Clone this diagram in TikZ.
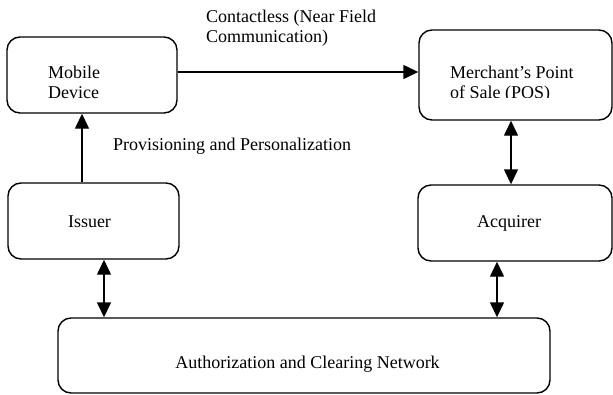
\documentclass[tikz,border=0pt]{standalone}
\usepackage{fontspec}
\setmainfont{Liberation Serif}
\usetikzlibrary{arrows.meta}
\begin{document}
\begin{tikzpicture}[x=1pt,y=-1pt,
  box/.style={draw, line width=1.4pt, rounded corners=13pt, inner sep=0pt},
  lbl/.style={font=\fontsize{18}{20}\selectfont, inner sep=0pt, anchor=base west},
  lblc/.style={font=\fontsize{18}{20}\selectfont, inner sep=0pt, anchor=base},
  con/.style={line width=1.4pt, -{Triangle[length=15pt,width=14pt]}},
  bicon/.style={line width=1.4pt, {Triangle[length=15pt,width=14pt]}-{Triangle[length=15pt,width=14pt]}}]
\useasboundingbox (0,0) rectangle (613,394);
% boxes
\node[box, minimum width=170pt, minimum height=76pt] (md) at (92,75) {};
\node[box, minimum width=193pt, minimum height=90pt] (pos) at (515.5,75) {};
\node[box, minimum width=171pt, minimum height=76pt] (iss) at (93.5,221) {};
\node[box, minimum width=194pt, minimum height=76pt] (acq) at (515,223) {};
\node[box, minimum width=492pt, minimum height=75pt] (net) at (304,355.5) {};
% texts
\node[lbl] (mdt1) at (48,78) {Mobile};
\node[lbl] (mdt2) at (48,98) {Device};
\begin{scope}
\clip (420,31) rectangle (611,97);
\node[lbl] (post1) at (450,78) {Merchant’s Point};
\node[lbl] (post2) at (450,98) {of Sale (POS)};
\end{scope}
\node[lblc] (isst) at (89.5,227.5) {Issuer};
\node[lblc] (acqt) at (509,227.5) {Acquirer};
\node[lblc] (nett) at (307.5,368) {Authorization and Clearing Network};
\node[lbl] (ct1) at (206,22.5) {Contactless (Near Field};
\node[lbl] (ct2) at (206,42.5) {Communication)};
\node[lbl] (prov) at (113,150) {Provisioning and Personalization};
% helper coordinates
\coordinate (h1) at (0,72);
\coordinate (v1) at (82,0);
\coordinate (v2) at (511,0);
\coordinate (v3) at (104,0);
\coordinate (v4) at (497,0);
% connectors
\draw[con] (md.east |- h1) -- (pos.west |- h1);
\draw[con] (iss.north -| v1) -- (md.south -| v1);
\draw[bicon] (pos.south -| v2) -- (acq.north -| v2);
\draw[bicon] (iss.south -| v3) -- (net.north -| v3);
\draw[bicon] (acq.south -| v4) -- (net.north -| v4);
\end{tikzpicture}
\end{document}
